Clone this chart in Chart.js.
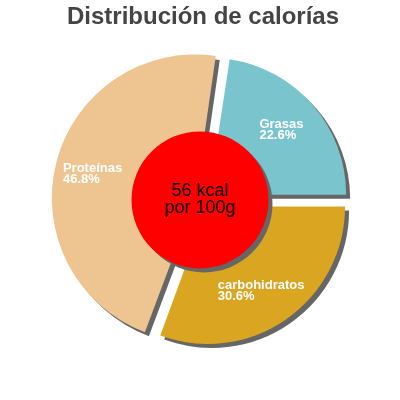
<!DOCTYPE html>
<html>
<head>
<meta charset="utf-8">
<script src="https://cdn.jsdelivr.net/npm/chart.js@4"></script>
<style>
  html, body { margin: 0; padding: 0; background: #fff; }
  #wrap { width: 400px; height: 400px; }
</style>
</head>
<body>
<div id="wrap"><canvas id="chartCalories"></canvas></div>
<script>
// data
const labels = ["carbohidratos", "Proteínas", "Grasas"];
const percents = [30.6, 46.8, 22.6];
const colors = ["#DAA520", "#EEC591", "#7AC5CD"];
const centerLines = ["56 kcal", "por 100g"];

const SHADOW = "#666666";

// grey drop shadow under every slice, like the old php charts
const shadowPlugin = {
    id: "sliceShadow",
    beforeDatasetsDraw(chart) {
        const c = chart.ctx;
        c.save();
        c.shadowColor = SHADOW;
        c.shadowOffsetX = 4;
        c.shadowOffsetY = 4;
        c.shadowBlur = 0;
    },
    afterDatasetsDraw(chart) {
        const c = chart.ctx;
        c.restore();
        const arcs = chart.getDatasetMeta(0).data;
        const cx = arcs[0].x - 3, cy = arcs[0].y;
        const r = arcs[0].outerRadius * 0.5;

        // red disc in the middle
        c.save();
        c.shadowColor = SHADOW;
        c.shadowOffsetX = 4;
        c.shadowOffsetY = 4;
        c.fillStyle = "#FF0000";
        c.beginPath();
        c.arc(cx, cy, r, 0, Math.PI * 2);
        c.fill();
        c.restore();

        c.save();
        c.fillStyle = "#000";
        c.font = "18px 'Liberation Sans', Arial, sans-serif";
        c.textAlign = "center";
        c.textBaseline = "alphabetic";
        c.fillText(centerLines[0], cx, cy - 4);
        c.fillText(centerLines[1], cx, cy + 13);
        c.restore();

        // slice labels, left aligned block in the slice
        c.save();
        c.fillStyle = "#fff";
        c.font = "bold 13px 'Liberation Sans', Arial, sans-serif";
        c.textAlign = "left";
        c.textBaseline = "alphabetic";
        arcs.forEach(function(arc, i) {
            const mid = (arc.startAngle + arc.endAngle) / 2;
            const off = 8;
            const rr = arc.outerRadius * 0.74;
            const px = arc.x + Math.cos(mid) * (rr + off);
            const py = arc.y + Math.sin(mid) * (rr + off);
            const l1 = labels[i], l2 = percents[i].toFixed(1) + "%";
            const w = Math.max(c.measureText(l1).width, c.measureText(l2).width);
            c.fillText(l1, px - w / 2 - 4.5, py - 1);
            c.fillText(l2, px - w / 2 - 4.5, py + 10);
        });
        c.restore();
    }
};

var ctx = document.getElementById("chartCalories").getContext("2d");
var chartCalories = new Chart(ctx, {
    type: "pie",
    data: {
        labels: labels,
        datasets: [{
            data: percents,
            backgroundColor: colors,
            borderWidth: 0,
            offset: 32,
            hoverOffset: 0
        }]
    },
    options: {
        responsive: true,
        maintainAspectRatio: false,
        animation: false,
        rotation: 90,
        radius: 137,
        layout: {
            padding: {left: 6, right: 0, top: 0, bottom: 37}
        },
        events: [],
        plugins: {
            legend: {display: false},
            tooltip: {enabled: false},
            title: {
                display: true,
                text: "Distribución de calorías",
                color: "#444444",
                font: {
                    family: "'Liberation Sans', Arial, sans-serif",
                    size: 24,
                    weight: "bold"
                },
                padding: {top: 3, bottom: 5}
            }
        }
    },
    plugins: [shadowPlugin]
});
</script>
</body>
</html>
